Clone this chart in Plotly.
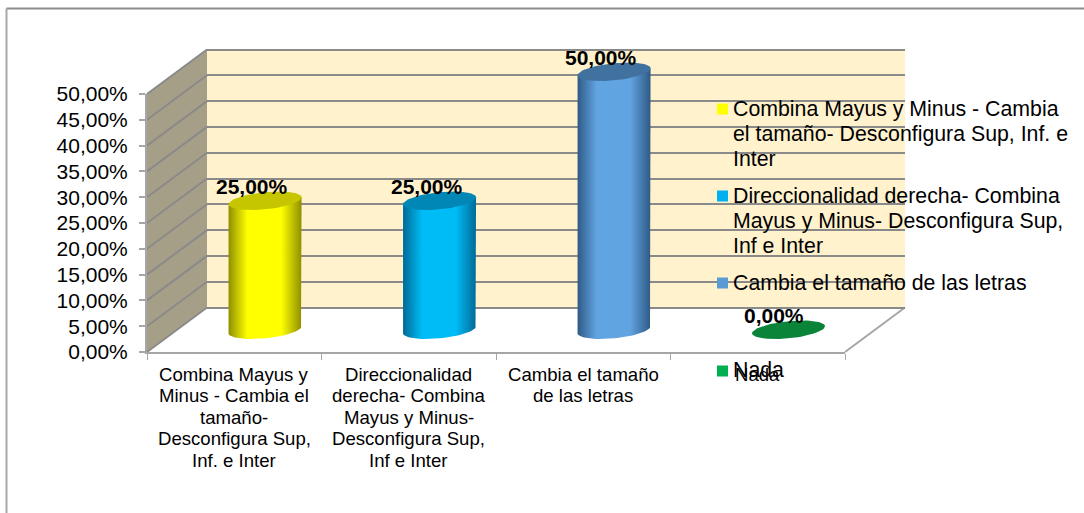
import numpy as np
import plotly.graph_objects as go

# ---- data ----
categories = ["Combina Mayus y<br>Minus - Cambia el<br>tamaño-<br>Desconfigura Sup,<br>Inf. e Inter",
              "Direccionalidad<br>derecha- Combina<br>Mayus y Minus-<br>Desconfigura Sup,<br>Inf e Inter",
              "Cambia el tamaño<br>de las letras",
              "Nada"]
legend_labels = ["Combina Mayus y Minus - Cambia<br>el tamaño- Desconfigura Sup, Inf. e<br>Inter",
                 "Direccionalidad derecha- Combina<br>Mayus y Minus- Desconfigura Sup,<br>Inf e Inter",
                 "Cambia el tamaño de las letras",
                 "Nada"]
values = [25.0, 25.0, 50.0, 0.0]
y_ticks = [0, 5, 10, 15, 20, 25, 30, 35, 40, 45, 50]
y_tick_labels = ["0,00%", "5,00%", "10,00%", "15,00%", "20,00%", "25,00%",
                 "30,00%", "35,00%", "40,00%", "45,00%", "50,00%"]

# ---- styles ----
W, H = 1084, 513
FONT = "Liberation Sans, Arial, sans-serif"
edge = ["#8F8F00", "#006A97", "#2F5A85", "#0A8439"]
mid = ["#FFFF00", "#00BCF6", "#61A4E2", "#0A8439"]
cap = ["#C6C600", "#0087B6", "#41729F", "#0A8439"]
swatch = ["#FFFF00", "#00B0F0", "#5B9BD5", "#00B050"]
GRID = "#8A8A8A"
AXIS = "#A6A6A6"
# plane geometry in pixels
FX0, FX1, FY0, FY1 = 147, 845, 352, 94
DX, DY = 60, 44.5
BAR_W_PX, CAP_K1, CAP_K2 = 36.5, 3.5, 8.6
UX = (FX1 - FX0) / 4.0
UY = (FY0 - FY1) / 50.0


def px(v):
    return v / W


def py(v):
    return 1 - v / H


def plane(frac, pad=0.0, nudge=0.0):
    """Domains of a plane at a depth fraction, with `pad` value units spare above and below."""
    dx, dy = DX * frac + nudge, DY * frac
    return ([px(FX0 + dx), px(FX1 + dx)], [py(FY0 - dy + pad * UY), py(FY1 - dy - pad * UY)])


fig = go.Figure()


def cap_xy(i, v):
    t = np.linspace(0, 2 * np.pi, 73)
    x = i + BAR_W_PX / UX * np.cos(t)
    y = v + (CAP_K1 * np.cos(t) + CAP_K2 * np.sin(t)) / UY
    return x, y


# back wall plane: gridlines (real axis grid)
fig.add_trace(go.Scatter(x=[0, 3], y=[0, 50], mode="markers", marker=dict(opacity=0),
                         xaxis="x", yaxis="y", showlegend=False, hoverinfo="skip"))
# mid-depth plane: the columns
fig.add_trace(go.Bar(x=list(range(4)), y=values, width=0.36, marker=dict(color=swatch, line=dict(width=0)),
                     cliponaxis=False, xaxis="x2", yaxis="y2", showlegend=False, hoverinfo="skip"))
for i, v in enumerate(values):
    if v > 0:
        xt, yt = cap_xy(i, v)
        xb, yb = cap_xy(i, 0)
        # body outline: right top -> right bottom -> lower half of base -> left -> left top
        bx = np.concatenate([[xt[0]], xb[::-1][:37], xt[36:37]])
        by = np.concatenate([[yt[0]], yb[::-1][:37], yt[36:37]])
        fig.add_trace(go.Scatter(
            x=bx, y=by, mode="lines", line=dict(width=0), fill="toself", cliponaxis=False,
            fillgradient=dict(type="horizontal",
                              colorscale=[[0, edge[i]], [0.26, mid[i]], [0.72, mid[i]], [1, edge[i]]]),
            xaxis="x2", yaxis="y2", showlegend=False, hoverinfo="skip"))
for i, v in enumerate(values):
    xt, yt = cap_xy(i, v)
    fig.add_trace(go.Scatter(x=xt, y=yt, mode="lines", line=dict(width=0), fill="toself", cliponaxis=False,
                             fillcolor=cap[i], xaxis="x2", yaxis="y2", showlegend=False, hoverinfo="skip"))
# front plane: tick labels
fig.add_trace(go.Scatter(x=[0, 3], y=[0, 50], mode="markers", marker=dict(opacity=0),
                         xaxis="x3", yaxis="y3", showlegend=False, hoverinfo="skip"))

shapes = []
# outer frame
shapes.append(dict(type="line", xref="paper", yref="paper", x0=px(6.5), x1=1, y0=py(8.5), y1=py(8.5),
                   line=dict(color="#8C8C8C", width=2), layer="below"))
shapes.append(dict(type="line", xref="paper", yref="paper", x0=px(6.5), x1=px(6.5), y0=py(8.5), y1=0,
                   line=dict(color="#A8A8A8", width=2), layer="below"))
# back wall
shapes.append(dict(type="rect", xref="paper", yref="paper", x0=px(FX0 + DX), x1=px(FX1 + DX),
                   y0=py(FY0 - DY), y1=py(FY1 - DY), fillcolor="#FFF2CC", line=dict(width=0), layer="below"))
# side wall
shapes.append(dict(type="path", xref="paper", yref="paper",
                   path=f"M {px(FX0)} {py(FY1)} L {px(FX0 + DX)} {py(FY1 - DY)} "
                        f"L {px(FX0 + DX)} {py(FY0 - DY)} L {px(FX0)} {py(FY0)} Z",
                   fillcolor="#A69F88", line=dict(width=0), layer="below"))
# side wall grid lines
for t in y_ticks:
    yy = FY0 - t * UY
    shapes.append(dict(type="line", xref="paper", yref="paper", x0=px(FX0), x1=px(FX0 + DX),
                       y0=py(yy), y1=py(yy - DY), line=dict(color=GRID, width=2), layer="below"))
# floor right edge
shapes.append(dict(type="line", xref="paper", yref="paper", x0=px(FX1), x1=px(FX1 + DX),
                   y0=py(FY0), y1=py(FY0 - DY), line=dict(color=AXIS, width=2), layer="below"))

annotations = []
# data labels
for i, v in enumerate(values):
    annotations.append(dict(x=i, y=v, xref="x2", yref="y2", xanchor="center", yanchor="middle",
                            xshift=-13 if v > 0 else -15, yshift=14,
                            text="<b>" + f"{v:.2f}".replace(".", ",") + "%</b>", showarrow=False,
                            font=dict(family=FONT, size=21, color="#000000")))


def line_annotations(text, x, xref, first_y, step, size, xanchor, align):
    for k, ln in enumerate(text.split("<br>")):
        annotations.append(dict(x=x, y=py(first_y + k * step), xref=xref, yref="paper",
                                xanchor=xanchor, yanchor="middle", align=align, text=ln,
                                showarrow=False, font=dict(family=FONT, size=size, color="#000000")))


# category labels (one per line: reference leading is tighter than Plotly's <br>)
for i, c in enumerate(categories):
    line_annotations(c, i, "x3", 374, 21.5, 18.6, "center", "center")

# legend (hand placed because the gaps are irregular)
legend_y = [109, 196, 283, 370]
swatch_y = [109, 196, 283, 371]
for lab, ly, sy, c in zip(legend_labels, legend_y, swatch_y, swatch):
    line_annotations(lab, px(731), "paper", ly, 25, 21.3, "left", "left")
    shapes.append(dict(type="rect", xref="paper", yref="paper", x0=px(717), x1=px(728),
                       y0=py(sy - 5.5), y1=py(sy + 5.5), fillcolor=c, line=dict(width=0), layer="above"))

BACK_PAD, MID_PAD = 1, 5
bx, by = plane(1.0, BACK_PAD)
mx, my = plane(0.5, MID_PAD, nudge=0.8)
fx, fy = plane(0.0)
hidden = dict(visible=False, fixedrange=True)
fig.update_layout(
    width=W, height=H, margin=dict(l=0, r=0, t=0, b=0, autoexpand=False), autosize=False,
    paper_bgcolor="#FFFFFF", plot_bgcolor="rgba(0,0,0,0)", showlegend=False,
    font=dict(family=FONT, color="#000000"),
    barmode="overlay",
    shapes=shapes, annotations=annotations,
    xaxis=dict(domain=bx, range=[-0.5, 3.5], showgrid=False, zeroline=False, showticklabels=False, ticks=""),
    yaxis=dict(domain=by, range=[-BACK_PAD, 50 + BACK_PAD], tickvals=y_ticks, showgrid=True, gridcolor=GRID,
               gridwidth=2, zeroline=False, showticklabels=False, ticks="", anchor="x"),
    xaxis2=dict(domain=mx, range=[-0.5, 3.5], anchor="y2", **hidden),
    yaxis2=dict(domain=my, range=[-MID_PAD, 50 + MID_PAD], anchor="x2", **hidden),
    xaxis3=dict(domain=fx, range=[-0.5, 3.5], anchor="y3", tickmode="array", tickvals=[0, 1, 2, 3],
                showticklabels=False, ticks="", showgrid=False, zeroline=False, showline=True,
                linecolor=AXIS, linewidth=2,
                minor=dict(tickmode="array", tickvals=[-0.5, 0.5, 1.5, 2.5, 3.5], ticks="outside",
                           ticklen=6, tickwidth=1, tickcolor=AXIS)),
    yaxis3=dict(domain=fy, range=[0, 50], anchor="x3", tickmode="array", tickvals=y_ticks,
                ticktext=y_tick_labels, ticks="outside", ticklen=6, tickwidth=2, tickcolor=AXIS,
                showgrid=False, zeroline=False, showline=True, linecolor=AXIS, linewidth=2,
                tickfont=dict(family=FONT, size=21, color="#000000"), ticklabelstandoff=7),
)

fig.write_html("out.html", config={"displayModeBar": False},
               post_script="document.body.style.margin='0';document.documentElement.style.overflow='hidden';")
